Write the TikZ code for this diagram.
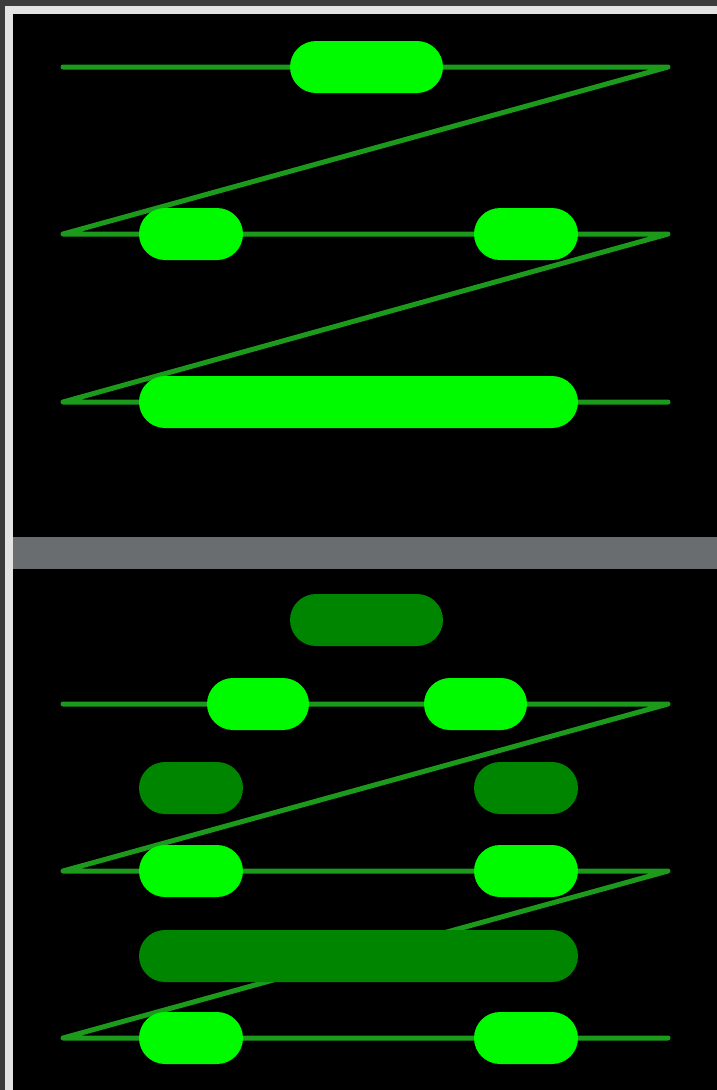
\documentclass[tikz,border=0pt]{standalone}
\definecolor{framegray}{HTML}{3C3C3C}
\definecolor{edgelight}{HTML}{E4E4E4}
\definecolor{sepgray}{HTML}{6A6D70}
\definecolor{linegreen}{HTML}{1C9A1C}
\definecolor{brightgreen}{HTML}{00FA00}
\definecolor{darkgreen}{HTML}{008500}
\begin{document}
\begin{tikzpicture}[x=1pt,y=-1pt,
  wire/.style={draw=linegreen,line width=5pt,line join=round,line cap=round},
  pill/.style={rectangle,rounded corners=26pt,minimum height=52pt,inner sep=0pt,draw=none},
  onpill/.style={pill,fill=brightgreen},
  offpill/.style={pill,fill=darkgreen}]
\useasboundingbox (0,0) rectangle (717,1090);
\fill[framegray] (0,0) rectangle (717,1090);
\fill[edgelight] (5,6) rectangle (717,1090);
\fill[black] (13,14) rectangle (717,1090);
\fill[sepgray] (13,537) rectangle (717,569);
% top panel coordinates
\coordinate (a1) at (63,67);   \coordinate (b1) at (668,67);
\coordinate (a2) at (63,234);  \coordinate (b2) at (668,234);
\coordinate (a3) at (63,402);  \coordinate (b3) at (668,402);
\draw[wire] (a1) -- (b1) -- (a2) -- (b2) -- (a3) -- (b3);
\node[onpill,minimum width=153pt] (t1) at (366.5,67) {};
\node[onpill,minimum width=104pt] (t2l) at (191,234) {};
\node[onpill,minimum width=104pt] (t2r) at (526,234) {};
\node[onpill,minimum width=439pt] (t3) at (358.5,402) {};
% bottom panel coordinates
\coordinate (c1) at (63,704);   \coordinate (d1) at (668,704);
\coordinate (c2) at (63,871);   \coordinate (d2) at (668,871);
\coordinate (c3) at (63,1038);  \coordinate (d3) at (668,1038);
\draw[wire] (c1) -- (d1) -- (c2) -- (d2) -- (c3) -- (d3);
\node[offpill,minimum width=153pt] (g1) at (366.5,620) {};
\node[onpill,minimum width=102pt] (h1l) at (258,704) {};
\node[onpill,minimum width=103pt] (h1r) at (475.5,704) {};
\node[offpill,minimum width=104pt] (g2l) at (191,788) {};
\node[offpill,minimum width=104pt] (g2r) at (526,788) {};
\node[onpill,minimum width=104pt] (h2l) at (191,871) {};
\node[onpill,minimum width=104pt] (h2r) at (526,871) {};
\node[offpill,minimum width=439pt] (g3) at (358.5,956) {};
\node[onpill,minimum width=104pt] (h3l) at (191,1038) {};
\node[onpill,minimum width=104pt] (h3r) at (526,1038) {};
\end{tikzpicture}
\end{document}
